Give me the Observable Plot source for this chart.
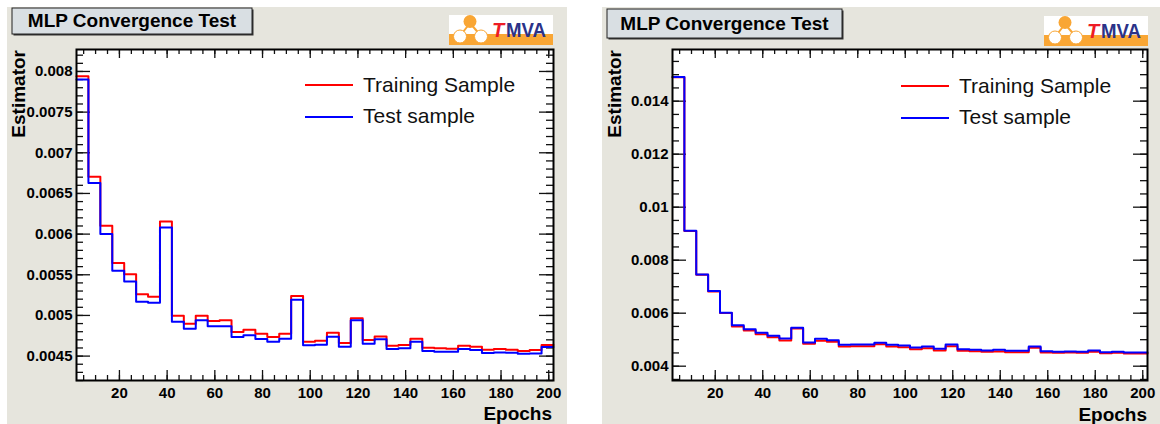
<!DOCTYPE html>
<html><head><meta charset="utf-8">
<script src="https://cdn.jsdelivr.net/npm/d3@7"></script>
<script src="https://cdn.jsdelivr.net/npm/@observablehq/plot@0.6"></script>
<style>
html,body{margin:0;padding:0;background:#fff;}
body{width:1160px;height:424px;position:relative;overflow:hidden;font-family:'Liberation Sans',Arial,Helvetica,sans-serif;}
.panel{position:absolute;background:#e6e5dd;}
.plotwrap{position:absolute;top:0;}
#overlay{position:absolute;left:0;top:0;pointer-events:none;}
</style></head>
<body>
<div class="panel" style="left:7px;top:7px;width:560px;height:417px"></div>
<div class="panel" style="left:602px;top:7px;width:558px;height:417px"></div>
<div class="plotwrap" id="plotL" style="left:0;width:580px"></div>
<div class="plotwrap" id="plotR" style="left:590px;width:570px"></div>
<svg id="overlay" width="1160" height="424"></svg>
<script>
// ---- data ----
const binStart = [2,7,12,17,22,27,32,37,42,47,52,57,62,67,72,77,82,87,92,97,
                  102,107,112,117,122,127,132,137,142,147,152,157,162,167,172,177,182,187,192,197];
const binWidth = 5;
const seriesNames = ["Training Sample", "Test sample"];
const seriesColors = ["#ff0000", "#0000ff"];

const leftTraining = [0.00794,0.006706,0.006102,0.005646,0.005507,0.00526,0.005231,0.006155,0.004995,0.004897,
                      0.004995,0.004932,0.00494,0.004796,0.004824,0.004775,0.004734,0.004775,0.00524,0.004676,
                      0.004689,0.004786,0.00466,0.004964,0.004697,0.004742,0.004627,0.004636,0.004713,0.004602,
                      0.004598,0.00459,0.004627,0.004615,0.004578,0.004586,0.004578,0.004562,0.004574,0.004636];
const leftTest     = [0.0079,0.006629,0.006,0.005548,0.005416,0.005169,0.005157,0.006081,0.004923,0.004837,
                      0.00494,0.004866,0.004866,0.004734,0.004755,0.00471,0.004676,0.004713,0.005194,0.004632,
                      0.004639,0.004738,0.004615,0.00494,0.004652,0.004706,0.004586,0.004598,0.004676,0.004562,
                      0.004553,0.004553,0.004586,0.004574,0.004537,0.004545,0.004541,0.004529,0.004533,0.004611];

const rightTraining = [0.0149,0.009105,0.007455,0.006822,0.006005,0.0055,0.00535,0.005209,0.005096,0.004971,
                       0.005424,0.004845,0.00496,0.004922,0.004744,0.004756,0.004756,0.004831,0.004744,0.004718,
                       0.004642,0.00468,0.004593,0.004756,0.004581,0.004568,0.004542,0.004555,0.00453,0.00453,
                       0.004693,0.004517,0.004504,0.004517,0.004504,0.004542,0.004491,0.004504,0.004479,0.004479];
const rightTest     = [0.01491,0.009115,0.007464,0.006833,0.006017,0.005549,0.005398,0.005262,0.005148,0.005046,
                       0.005451,0.004895,0.005035,0.004982,0.004808,0.00482,0.00482,0.004884,0.004808,0.004782,
                       0.004706,0.004744,0.004657,0.00482,0.004642,0.004619,0.004593,0.004619,0.004581,0.004581,
                       0.004744,0.004568,0.004542,0.004555,0.004542,0.004593,0.00453,0.004542,0.004517,0.004517];

const xTicks = [20,40,60,80,100,120,140,160,180,200];
const xTickLabels = ["20","40","60","80","100","120","140","160","180","200"];
const leftYTicks = [0.0045,0.005,0.0055,0.006,0.0065,0.007,0.0075,0.008];
const leftYTickLabels = ["0.0045","0.005","0.0055","0.006","0.0065","0.007","0.0075","0.008"];
const rightYTicks = [0.004,0.006,0.008,0.01,0.012,0.014];
const rightYTickLabels = ["0.004","0.006","0.008","0.01","0.012","0.014"];

const chartTitle = "MLP Convergence Test";
const xLabel = "Epochs";
const yLabel = "Estimator";

// ---- helpers ----
function stepRows(values){
  const rows = binStart.map((x,i)=>({epoch:x, value:values[i]}));
  rows.push({epoch: binStart[binStart.length-1] + binWidth, value: values[values.length-1]});
  return rows;
}

function panel({width, marginLeft, marginRight, xDomain, yDomain, yTicks, yLabels, yMinor, training, test}){
  const height = 424, marginTop = 49, marginBottom = 44;
  const innerW = width - marginLeft - marginRight;
  const innerH = height - marginTop - marginBottom;
  const xMinor = d3.range(5, 201, 5);
  const ts = {stroke:"#111", strokeWidth:1.3};
  return Plot.plot({
    width, height, marginLeft, marginRight, marginTop, marginBottom,
    style:{background:"transparent", fontFamily:"'Liberation Sans', Arial, sans-serif", color:"#000", overflow:"visible"},
    x:{domain:xDomain},
    y:{domain:yDomain},
    marks:[
      Plot.frame({fill:"white"}),
      Plot.ruleX(xMinor, {...ts, insetTop: innerH-5}),
      Plot.ruleX(xTicks, {...ts, insetTop: innerH-10}),
      Plot.ruleX(xMinor, {...ts, insetBottom: innerH-5}),
      Plot.ruleX(xTicks, {...ts, insetBottom: innerH-9}),
      Plot.ruleY(yMinor, {...ts, insetRight: innerW-7}),
      Plot.ruleY(yTicks, {...ts, insetRight: innerW-14}),
      Plot.ruleY(yMinor, {...ts, insetLeft: innerW-7}),
      Plot.ruleY(yTicks, {...ts, insetLeft: innerW-14}),
      Plot.line(stepRows(training), {x:"epoch", y:"value", curve:"step-after", stroke:seriesColors[0], strokeWidth:2}),
      Plot.line(stepRows(test), {x:"epoch", y:"value", curve:"step-after", stroke:seriesColors[1], strokeWidth:2}),
      Plot.frame({stroke:"#000", strokeWidth:2}),
      Plot.axisX({ticks:xTicks, tickFormat:d=>xTickLabels[xTicks.indexOf(d)], tickSize:0, tickPadding:7,
                  fontSize:15, fontWeight:"bold", label:null}),
      Plot.axisY({ticks:yTicks, tickFormat:d=>yLabels[yTicks.indexOf(d)], tickSize:0, tickPadding:4,
                  fontSize:15, fontWeight:"bold", label:null})
    ]
  });
}

document.getElementById("plotL").appendChild(panel({
  width:580, marginLeft:76, marginRight:27, xDomain:[2,202], yDomain:[0.0042,0.00827],
  yTicks:leftYTicks, yLabels:leftYTickLabels, yMinor:d3.range(42,83).map(d=>d/10000),
  training:leftTraining, test:leftTest
}));
document.getElementById("plotR").appendChild(panel({
  width:570, marginLeft:82, marginRight:13, xDomain:[2,202], yDomain:[0.00346,0.01595],
  yTicks:rightYTicks, yLabels:rightYTickLabels, yMinor:d3.range(7,32).map(d=>d*0.0005),
  training:rightTraining, test:rightTest
}));

// ---- decorations (titles, logos, legends, axis titles) ----
const ov = d3.select("#overlay");
const FONT = "'Liberation Sans', Arial, Helvetica, sans-serif";

function titleBox(x, y, w, h, baseline){
  ov.append("rect").attr("x", x+1.5).attr("y", y+1.5).attr("width", w).attr("height", h).attr("fill", "#333");
  ov.append("rect").attr("x", x).attr("y", y).attr("width", w).attr("height", h)
    .attr("fill", "#d9dfe3").attr("stroke", "#222").attr("stroke-width", 1);
  ov.append("text").attr("x", x + w/2).attr("y", baseline).attr("text-anchor", "middle")
    .attr("font-family", FONT).attr("font-weight", "bold").attr("font-size", 19).attr("fill", "#000")
    .text(chartTitle);
}

function logo(x, y){
  const g = ov.append("g").attr("transform", `translate(${x},${y})`);
  const orange = "#f9a634";
  g.append("rect").attr("width", 104).attr("height", 30).attr("fill", "#fff");
  g.append("rect").attr("y", 19).attr("width", 104).attr("height", 11).attr("fill", orange);
  g.append("line").attr("x1", 21).attr("y1", 8).attr("x2", 11).attr("y2", 21).attr("stroke", orange).attr("stroke-width", 2);
  g.append("line").attr("x1", 21).attr("y1", 8).attr("x2", 32).attr("y2", 21).attr("stroke", orange).attr("stroke-width", 2);
  g.append("circle").attr("cx", 21).attr("cy", 6.5).attr("r", 6.5).attr("fill", orange);
  g.append("circle").attr("cx", 11).attr("cy", 21.5).attr("r", 6.5).attr("fill", "#fff").attr("stroke", orange).attr("stroke-width", 1);
  g.append("circle").attr("cx", 32).attr("cy", 21.5).attr("r", 6.5).attr("fill", "#fff").attr("stroke", orange).attr("stroke-width", 1);
  const t = g.append("text").attr("y", 22).attr("font-family", FONT).attr("font-weight", "bold").attr("font-size", 20);
  t.append("tspan").attr("x", 43).attr("fill", "#ee1c25").attr("font-style", "italic").text("T");
  t.append("tspan").attr("x", 57).attr("fill", "#2b3288").attr("textLength", 40).attr("lengthAdjust", "spacingAndGlyphs").text("MVA");
}

function legend(x, yLine0, yText0){
  seriesNames.forEach((name, i) => {
    const yl = yLine0 + i*32, yt = yText0 + i*31;
    ov.append("line").attr("x1", x).attr("x2", x+48).attr("y1", yl).attr("y2", yl)
      .attr("stroke", seriesColors[i]).attr("stroke-width", 2);
    ov.append("text").attr("x", x+58).attr("y", yt).attr("font-family", FONT).attr("font-size", 21)
      .attr("fill", "#111").text(name);
  });
}

function axisTitles(xRight, xBase, yBaseX){
  ov.append("text").attr("x", xRight).attr("y", xBase).attr("text-anchor", "end")
    .attr("font-family", FONT).attr("font-weight", "bold").attr("font-size", 19).attr("fill", "#000").text(xLabel);
  ov.append("text").attr("transform", `translate(${yBaseX},50) rotate(-90)`).attr("text-anchor", "end")
    .attr("font-family", FONT).attr("font-weight", "bold").attr("font-size", 19).attr("fill", "#000").text(yLabel);
}

titleBox(12, 8, 240, 26, 27);
titleBox(607, 9, 235, 29, 30);
logo(449, 15);
logo(1044, 16);
legend(305, 85, 92);
legend(901, 86, 93);
axisTitles(552, 420, 24.5);
axisTitles(1147, 421, 621);
</script>
</body></html>
